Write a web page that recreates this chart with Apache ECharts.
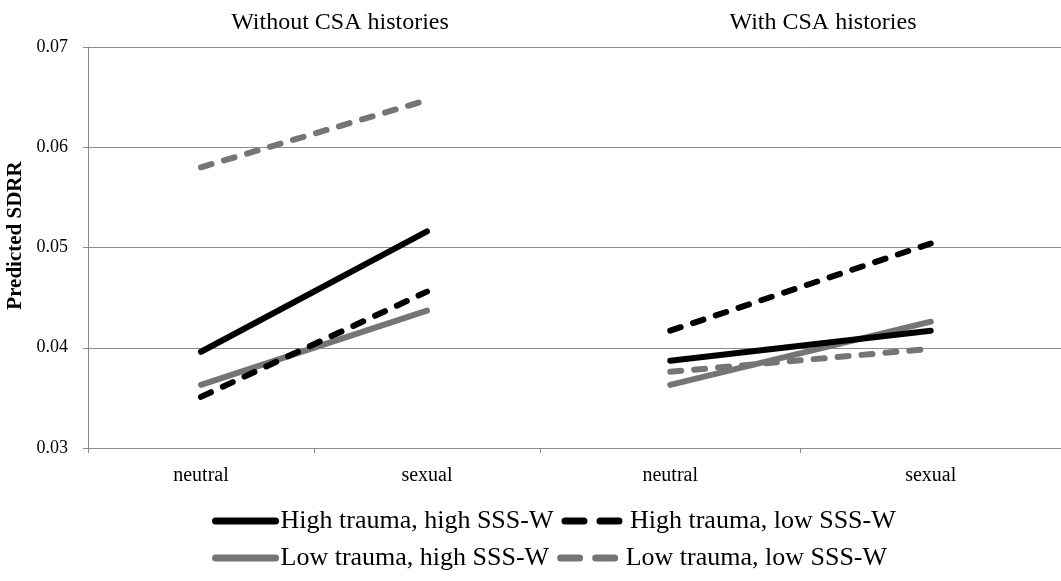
<!DOCTYPE html>
<html>
<head>
<meta charset="utf-8">
<script src="https://cdn.jsdelivr.net/npm/echarts@6/dist/echarts.min.js"></script>
<style>
  html, body { margin: 0; padding: 0; background: #ffffff; }
  #chart { width: 1061px; height: 581px; }
</style>
</head>
<body>
<div id="chart"></div>
<script>
// Stimulus conditions on each panel's x axis
const conditions = ['neutral', 'sexual'];
const panelTitles = ['Without CSA histories', 'With CSA histories'];
const groupNames = [
  'High trauma, high SSS-W',
  'High trauma, low SSS-W',
  'Low trauma, high SSS-W',
  'Low trauma, low SSS-W'
];
const yTicks = [0.03, 0.04, 0.05, 0.06, 0.07];

// Predicted SDRR, [neutral, sexual], women without CSA histories
const noCsaHighTraumaHighSss = [0.0396, 0.0516];
const noCsaHighTraumaLowSss  = [0.0351, 0.0456];
const noCsaLowTraumaHighSss  = [0.0363, 0.0437];
const noCsaLowTraumaLowSss   = [0.0580, 0.0647];

// Predicted SDRR, [neutral, sexual], women with CSA histories
const csaHighTraumaHighSss = [0.0387, 0.0417];
const csaHighTraumaLowSss  = [0.0417, 0.0504];
const csaLowTraumaHighSss  = [0.0363, 0.0426];
const csaLowTraumaLowSss   = [0.0376, 0.0399];

const panelData = [
  [noCsaHighTraumaHighSss, noCsaHighTraumaLowSss, noCsaLowTraumaHighSss, noCsaLowTraumaLowSss],
  [csaHighTraumaHighSss, csaHighTraumaLowSss, csaLowTraumaHighSss, csaLowTraumaLowSss]
];

const FONT = '"Liberation Serif", "Times New Roman", serif';
const GRID_GRAY = '#8c8c8c';
const lineColors = ['#000000', '#000000', '#757575', '#757575'];
const dashed = [false, true, false, true];

const series = [];
panelData.forEach((groups, p) => {
  groups.forEach((vals, g) => {
    series.push({
      name: groupNames[g],
      type: 'line',
      xAxisIndex: p,
      yAxisIndex: p,
      data: vals,
      symbol: 'none',
      silent: true,
      z: 10 - g,
      lineStyle: {
        color: lineColors[g],
        width: 6,
        type: dashed[g] ? [11, 13] : 'solid',
        cap: 'round'
      },
      itemStyle: { color: lineColors[g] }
    });
  });
});

function legendItem(i) {
  return {
    name: groupNames[i],
    lineStyle: {
      color: lineColors[i],
      width: 7,
      cap: 'round',
      type: dashed[i] ? [19, 16] : 'solid'
    }
  };
}

const legendCommon = {
  left: 212,
  padding: 0,
  orient: 'horizontal',
  itemWidth: 60,
  itemHeight: 14,
  itemGap: 8,
  selectedMode: false,
  itemStyle: { color: 'rgba(0,0,0,0)', borderWidth: 0 },
  textStyle: { fontFamily: FONT, fontSize: 26, color: '#000000' }
};

const xAxisCommon = {
  type: 'category',
  data: conditions,
  boundaryGap: true,
  axisLine: { show: true, lineStyle: { color: GRID_GRAY, width: 1 } },
  axisTick: { show: true, length: 5, lineStyle: { color: GRID_GRAY } },
  axisLabel: { fontFamily: FONT, fontSize: 20, color: '#000000', margin: 18 },
  splitLine: { show: false }
};

const yAxisCommon = {
  type: 'value',
  min: yTicks[0],
  max: yTicks[yTicks.length - 1],
  interval: 0.01,
  splitLine: { show: true, lineStyle: { color: GRID_GRAY, width: 1 } }
};

const titleStyle = { fontFamily: FONT, fontSize: 24, fontWeight: 'normal', color: '#000000' };

const option = {
  backgroundColor: '#ffffff',
  animation: false,
  title: [
    { text: panelTitles[0], left: 340, top: 11, textAlign: 'center', padding: 0, textStyle: titleStyle },
    { text: panelTitles[1], left: 823, top: 11, textAlign: 'center', padding: 0, textStyle: titleStyle }
  ],
  legend: [
    Object.assign({}, legendCommon, { top: 508, data: [legendItem(0), legendItem(1)] }),
    Object.assign({}, legendCommon, { top: 545, data: [legendItem(2), legendItem(3)] })
  ],
  grid: [
    { left: 88, top: 47, width: 452, height: 401, containLabel: false },
    { left: 540, top: 47, width: 528, height: 401, containLabel: false }
  ],
  xAxis: [
    Object.assign({ gridIndex: 0 }, xAxisCommon),
    Object.assign({ gridIndex: 1 }, xAxisCommon)
  ],
  yAxis: [
    Object.assign({
      gridIndex: 0,
      name: 'Predicted SDRR',
      nameLocation: 'middle',
      nameRotate: 90,
      nameGap: 62,
      nameTextStyle: {
        fontFamily: FONT, fontSize: 21, fontWeight: 'bold', color: '#000000',
        padding: [0, 0, 0, 24]
      },
      axisLine: { show: true, lineStyle: { color: GRID_GRAY, width: 1 } },
      axisTick: { show: true, length: 5, lineStyle: { color: GRID_GRAY } },
      axisLabel: {
        fontFamily: FONT, fontSize: 18, color: '#000000', margin: 20,
        formatter: v => v.toFixed(2)
      }
    }, yAxisCommon),
    Object.assign({
      gridIndex: 1,
      axisLine: { show: false },
      axisTick: { show: false },
      axisLabel: { show: false }
    }, yAxisCommon)
  ],
  series: series
};

const chart = echarts.init(document.getElementById('chart'), null, { renderer: 'canvas' });
chart.setOption(option);
</script>
</body>
</html>
